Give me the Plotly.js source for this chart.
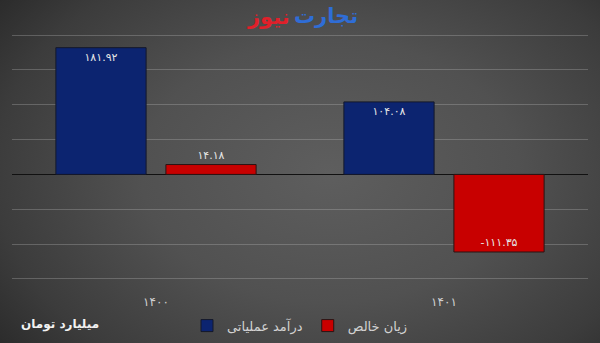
<!DOCTYPE html>
<html>
<head>
<meta charset="utf-8">
<script src="https://cdn.plot.ly/plotly-3.0.1.min.js"></script>
<style>
html,body{margin:0;padding:0;}
body{width:600px;height:343px;overflow:hidden;
background: radial-gradient(ellipse 70% 85% at 55% 50%, #5e5e5e 0%, #515151 45%, #3c3c3c 80%, #2a2a2a 100%);}
#chart{width:600px;height:343px;}
</style>
</head>
<body>
<div id="chart"></div>
<script>
const categories = ["۱۴۰۰", "۱۴۰۱"];
const seriesNames = ["درآمد عملیاتی", "زیان خالص"];
const revenue = [181.92, 104.08];
const netLoss = [14.18, -111.35];
const revenueLabels = ["۱۸۱.۹۲", "۱۰۴.۰۸"];
const netLossLabels = ["۱۴.۱۸", "-۱۱۱.۳۵"];
const unitLabel = "میلیارد تومان";
const brandA = "تجارت";
const brandB = "نیوز";

const FONT = "DejaVu Sans, Noto Sans, sans-serif";
const txtFont = {family: FONT, size: 11, color: "#e6e6e6"};

const traces = [
  {
    type: "bar", name: seriesNames[0], x: categories, y: revenue,
    text: revenueLabels, textposition: "auto", insidetextanchor: "end",
    constraintext: "none", cliponaxis: false,
    insidetextfont: txtFont, outsidetextfont: txtFont,
    marker: {color: "#0c2470", line: {color: "#14182a", width: 1}},
    hoverinfo: "none"
  },
  {
    type: "bar", name: seriesNames[1], x: categories, y: netLoss,
    text: netLossLabels, textposition: "auto", insidetextanchor: "end",
    constraintext: "none", cliponaxis: false,
    insidetextfont: txtFont, outsidetextfont: txtFont,
    marker: {color: "#c80000", line: {color: "#2a1414", width: 1}},
    hoverinfo: "none"
  }
];

const layout = {
  width: 600, height: 343,
  margin: {l: 12, r: 12, t: 33, b: 62, autoexpand: false},
  paper_bgcolor: "rgba(0,0,0,0)",
  plot_bgcolor: "rgba(0,0,0,0)",
  barmode: "group",
  bargap: 0.236,
  bargroupgap: 0.18,
  showlegend: true,
  legend: {
    orientation: "h", x: 0.5, xanchor: "center", y: -0.18, yanchor: "middle",
    font: {family: FONT, size: 13, color: "#d2d2d2"},
    itemwidth: 30, traceorder: "normal"
  },
  xaxis: {
    type: "category",
    showgrid: false, zeroline: false, showline: false,
    ticks: "", ticklen: 0, ticklabelstandoff: 12,
    tickfont: {family: FONT, size: 12, color: "#cfcfcf"},
    fixedrange: true
  },
  yaxis: {
    range: [-153, 203], dtick: 50, tick0: 0,
    showticklabels: false,
    showgrid: true, gridcolor: "rgba(200,200,200,0.28)", gridwidth: 1,
    zeroline: true, zerolinecolor: "#111111", zerolinewidth: 1,
    showline: false, fixedrange: true
  },
  annotations: [
    {text: unitLabel, xref: "paper", yref: "paper", x: 0.012, y: -0.175,
     xanchor: "left", yanchor: "middle", showarrow: false,
     font: {family: FONT, size: 12, color: "#f2f2f2", weight: "bold"}},
    {text: "<b>" + brandA + "</b>", xref: "paper", yref: "paper", x: (292-12)/576, y: 1.07,
     xanchor: "left", yanchor: "middle", showarrow: false,
     font: {family: FONT, size: 21, color: "#2f6dd6"}},
    {text: "<b>" + brandB + "</b>", xref: "paper", yref: "paper", x: (292-12)/576, y: 1.063,
     xanchor: "right", yanchor: "middle", showarrow: false,
     font: {family: FONT, size: 21, color: "#e0202a"}}
  ]
};

Plotly.newPlot("chart", traces, layout, {displayModeBar: false, staticPlot: true});
</script>
</body>
</html>
